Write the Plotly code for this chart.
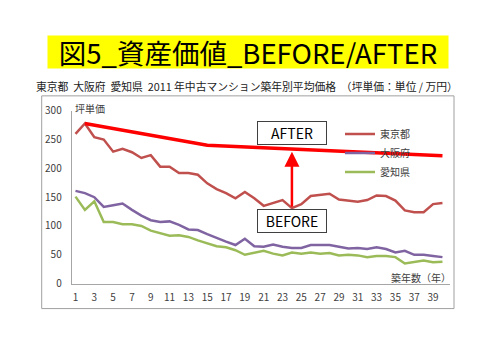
import plotly.graph_objects as go

# ---- data ----
years = list(range(1, 41))
tokyo = [260, 278, 254, 250, 229, 234, 228, 218, 223, 203,
         203, 192, 192, 189, 174, 164, 157, 148, 159, 148,
         135, 140, 145, 131, 138, 152, 154, 156, 146, 144,
         142, 145, 153, 152, 144, 127, 124, 124, 138, 140]
osaka = [161, 157, 150, 133, 136, 139, 128, 118, 110, 107,
         108, 102, 94, 93, 86, 79, 73, 67, 78, 65,
         64, 68, 64, 62, 62, 67, 67, 67, 64, 61,
         62, 60, 63, 60, 54, 57, 50, 50, 48, 46]
aichi = [151, 128, 143, 107, 107, 103, 103, 100, 92, 87,
         83, 84, 81, 75, 70, 65, 63, 58, 50, 54,
         57, 52, 49, 54, 52, 54, 52, 53, 49, 50,
         49, 46, 48, 48, 46, 35, 38, 40, 37, 38]
series_names = ["東京都", "大阪府", "愛知県"]
series_colors = ["#C0504D", "#8064A2", "#9BBB59"]

after_x = [2, 15, 40]
after_y = [278, 240, 222]
arrow_x = 24
arrow_from = 131
arrow_to = 229

xtick_vals = list(range(1, 41, 2))
xtick_text = [str(v) for v in xtick_vals]
ytick_vals = [0, 50, 100, 150, 200, 250, 300]

title_text = "図5_資産価値_BEFORE/AFTER"
subtitle_text = "東京都  大阪府  愛知県  2011 年中古マンション築年別平均価格  （坪単価：単位 / 万円）"
ylabel_text = "坪単価"
xlabel_text = "築年数（年）"

FONT = "Noto Sans CJK JP"
W, H = 500, 353

def px(x):
    return x / W

def py(y):
    return (H - y) / H

fig = go.Figure()
for name, vals, col in zip(series_names, [tokyo, osaka, aichi], series_colors):
    fig.add_trace(go.Scatter(x=years, y=vals, mode="lines", name=name,
                             line=dict(color=col, width=2.5)))

fig.add_trace(go.Scatter(x=after_x, y=after_y, mode="lines", showlegend=False,
                         line=dict(color="#FF0000", width=3.5)))

fig.update_layout(
    width=W, height=H,
    margin=dict(l=0, r=0, t=0, b=0),
    paper_bgcolor="white", plot_bgcolor="white",
    font=dict(family=FONT, size=10, color="#404040"),
    showlegend=True,
    legend=dict(x=px(340), y=py(116), xanchor="left", yanchor="top",
                bgcolor="rgba(0,0,0,0)", font=dict(size=10, color="#404040"),
                itemwidth=30),
    xaxis=dict(domain=[px(71.7), px(450)], range=[0.596, 40.8],
               tickvals=xtick_vals, ticktext=xtick_text, showgrid=False,
               zeroline=False, showline=True, linecolor="#A6A6A6", linewidth=1,
               ticks="", ticklabelstandoff=4,
               tickfont=dict(size=10, color="#404040")),
    yaxis=dict(domain=[py(287), py(107)], range=[0, 300], tickvals=ytick_vals,
               showgrid=False, zeroline=False, showline=True,
               linecolor="#A6A6A6", linewidth=1, ticks="",
               ticklabelstandoff=7, tickfont=dict(size=10, color="#404040")),
)

# outer chart border
fig.add_shape(type="rect", xref="paper", yref="paper",
              x0=px(41.7), x1=px(454), y0=py(313), y1=py(91.5),
              line=dict(color="#A0A0A0", width=1), layer="below")

# title
fig.add_annotation(xref="paper", yref="paper", x=px(247.5), y=py(45.5),
                   xanchor="center", yanchor="middle",
                   text=title_text, showarrow=False, bgcolor="#FFFF00",
                   font=dict(size=27.5, color="#000000", family=FONT),
                   width=400, height=32, borderpad=0)
fig.add_annotation(xref="paper", yref="paper", x=px(246.7), y=py(81.7),
                   xanchor="center", yanchor="middle",
                   text=subtitle_text, showarrow=False,
                   font=dict(size=10.8, color="#222222", family=FONT))
fig.add_annotation(xref="paper", yref="paper", x=px(73), y=py(105),
                   xanchor="left", yanchor="middle", text=ylabel_text,
                   showarrow=False, font=dict(size=10, color="#404040"))
fig.add_annotation(xref="paper", yref="paper", x=px(453), y=py(281),
                   xanchor="right", yanchor="middle", text=xlabel_text,
                   showarrow=False, font=dict(size=10, color="#404040"))

# arrow BEFORE -> AFTER
fig.add_annotation(x=arrow_x, y=arrow_to, ax=arrow_x, ay=arrow_from,
                   xref="x", yref="y", axref="x", ayref="y", text="",
                   showarrow=True, arrowhead=2, arrowsize=1.2, arrowwidth=2.5,
                   arrowcolor="#FF0000")

fig.add_annotation(x=arrow_x, y=261, xref="x", yref="y", text="AFTER",
                   showarrow=False, bgcolor="white", bordercolor="#404040",
                   borderwidth=1, borderpad=1, width=66, height=20,
                   font=dict(size=14, color="#000000", family=FONT))
fig.add_annotation(x=arrow_x, y=108, xref="x", yref="y", text="BEFORE",
                   showarrow=False, bgcolor="white", bordercolor="#404040",
                   borderwidth=1, borderpad=1, width=66, height=20,
                   font=dict(size=14, color="#000000", family=FONT))

fig.write_html("out.html")
